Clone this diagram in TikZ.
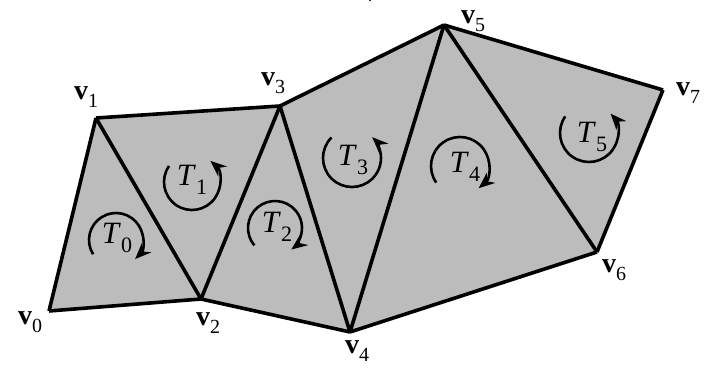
\documentclass[tikz,border=0pt]{standalone}
\usepackage{fontspec}
\setmainfont{Liberation Serif}
\usetikzlibrary{arrows.meta,calc}
\newcommand\vlab[1]{{\fontsize{28}{28}\selectfont\textbf{v}\raisebox{-0.3em}{\fontsize{20}{20}\selectfont #1}}}
\newcommand\tlab[1]{{\fontsize{31}{31}\selectfont\textit{T}\raisebox{-0.3em}{\fontsize{22}{22}\selectfont #1}}}
\definecolor{facegray}{RGB}{188,188,188}
\tikzset{
  edge/.style={line width=3.6pt, line join=miter},
  vlabel/.style={inner sep=0pt, text=black},
  tlabel/.style={inner sep=0pt},
  rot/.style={line width=2.6pt, -{Stealth[length=16pt,width=13pt]}},
}
\begin{document}
\begin{tikzpicture}[x=1pt,y=1pt]
\useasboundingbox[fill=white] (0,0) rectangle (709,367);
% vertices
\coordinate (v0) at (49,56);
\coordinate (v1) at (96,249);
\coordinate (v2) at (201,68);
\coordinate (v3) at (280,261);
\coordinate (v4) at (350,35);
\coordinate (v5) at (444,342);
\coordinate (v6) at (597,115);
\coordinate (v7) at (663,277);
% face
\fill[facegray] (v0) -- (v1) -- (v3) -- (v5) -- (v7) -- (v6) -- (v4) -- (v2) -- cycle;
% edges
\draw[edge] (v0) -- (v1);
\draw[edge] (v1) -- (v2);
\draw[edge] (v0) -- (v2);
\draw[edge] (v1) -- (v3);
\draw[edge] (v2) -- (v3);
\draw[edge] (v3) -- (v4);
\draw[edge] (v2) -- (v4);
\draw[edge] (v3) -- (v5);
\draw[edge] (v4) -- (v5);
\draw[edge] (v5) -- (v6);
\draw[edge] (v4) -- (v6);
\draw[edge] (v5) -- (v7);
\draw[edge] (v6) -- (v7);
% vertex labels
\node[vlabel] (l0) at (30,45) {\vlab{0}};
\node[vlabel] (l1) at (86,270) {\vlab{1}};
\node[vlabel] (l2) at (208,44) {\vlab{2}};
\node[vlabel] (l3) at (273,284) {\vlab{3}};
\node[vlabel] (l4) at (357,16) {\vlab{4}};
\node[vlabel] (l5) at (473,346) {\vlab{5}};
\node[vlabel] (l6) at (614,97) {\vlab{6}};
\node[vlabel] (l7) at (688,274) {\vlab{7}};
\node[vlabel] (ltop) at (361,376) {\vlab{4}};
% triangle labels and rotation arrows
\coordinate (c0) at (116,127);
\coordinate (c1) at (192,185);
\coordinate (c2) at (275,139);
\coordinate (c3) at (352,209);
\coordinate (c4) at (460,201);
\coordinate (c5) at (589,234);
\node[tlabel] (t0) at (117,129) {\tlab{0}};
\node[tlabel] (t1) at (192,187) {\tlab{1}};
\node[tlabel] (t2) at (277,140) {\tlab{2}};
\node[tlabel] (t3) at (353,207) {\tlab{3}};
\node[tlabel] (t4) at (465,200) {\tlab{4}};
\node[tlabel] (t5) at (592,230) {\tlab{5}};
\draw[rot] ($(c0)+(212:27)$) arc[start angle=212, end angle=-45, radius=27];
\draw[rot] ($(c1)+(145:28)$) arc[start angle=145, end angle=409, radius=28];
\draw[rot] ($(c2)+(220:27)$) arc[start angle=220, end angle=-53, radius=27];
\draw[rot] ($(c3)+(135:29)$) arc[start angle=135, end angle=406, radius=29];
\draw[rot] ($(c4)+(215:29)$) arc[start angle=215, end angle=-50, radius=29];
\draw[rot] ($(c5)+(145:29)$) arc[start angle=145, end angle=402, radius=29];
\end{tikzpicture}
\end{document}
